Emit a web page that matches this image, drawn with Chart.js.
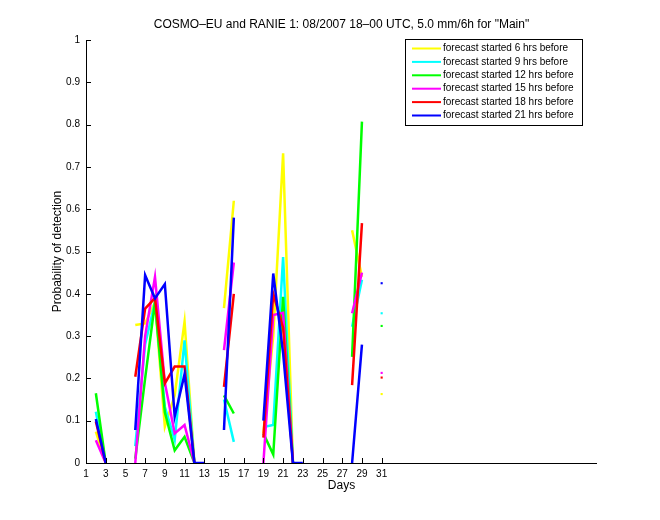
<!DOCTYPE html>
<html><head><meta charset="utf-8">
<script src="https://cdn.jsdelivr.net/npm/chart.js@4.4.0/dist/chart.umd.min.js"></script>
<style>html,body{margin:0;padding:0;background:#fff}#wrap{width:660px;height:520px}</style>
</head><body><div id="wrap"><canvas id="c" width="660" height="520"></canvas></div>
<script>
const days = [1,2,3,4,5,6,7,8,9,10,11,12,13,14,15,16,17,18,19,20,21,22,23,24,25,26,27,28,29,30,31];
const xTicks = [1,3,5,7,9,11,13,15,17,19,21,23,25,27,29,31];
const yTicks = [0,0.1,0.2,0.3,0.4,0.5,0.6,0.7,0.8,0.9,1];
const seriesLabels = ['forecast started 6 hrs before','forecast started 9 hrs before','forecast started 12 hrs before','forecast started 15 hrs before','forecast started 18 hrs before','forecast started 21 hrs before'];
const seriesColors = ['#ffff00','#00ffff','#00ff00','#ff00ff','#ff0000','#0000ff'];
const s6  = [null,0.074,0,null,null,0.326,0.33,0.38,0.086,0.16,0.334,0,null,null,0.366,0.62,null,null,0.07,0.30,0.732,0,null,null,null,null,null,0.55,0.44,null,0.163];
const s9  = [null,0.121,0,null,null,0.04,0.28,0.38,0.133,0.055,0.29,0,null,null,0.15,0.05,null,null,0.085,0.09,0.487,0,null,null,null,null,null,0.322,0.433,null,0.354];
const s12 = [null,0.165,0,null,null,0.01,0.2,0.38,0.12,0.03,0.062,0,null,null,0.16,0.117,null,null,0.07,0.02,0.393,0,null,null,null,null,null,0.251,0.807,null,0.324];
const s15 = [null,0.054,0,null,null,0,0.3,0.44,0.19,0.07,0.09,0,null,null,0.267,0.474,null,null,0,0.35,0.355,0,null,null,null,null,null,0.354,0.45,null,0.213];
const s18 = [null,0.098,0,null,null,0.204,0.365,0.39,0.188,0.228,0.228,0,null,null,0.18,0.40,null,null,0.06,0.40,0.32,0,null,null,null,null,null,0.184,0.567,null,0.202];
const s21 = [null,0.104,0,null,null,0.078,0.444,0.389,0.423,0.11,0.21,0,0,null,0.078,0.58,null,null,0.10,0.448,0.26,0,0,null,null,null,null,0,0.28,null,0.425];
const allSeries = [s6,s9,s12,s15,s18,s21];

const FONT = "'Liberation Sans', Arial, Helvetica, sans-serif";

function isolatedRadius(ctx){
  const d = ctx.dataset.data, i = ctx.dataIndex;
  const p = d[i-1], n = d[i+1];
  const pn = !p || p.y == null, nn = !n || n.y == null;
  return (pn && nn) ? 1.5 : 0;
}

const datasets = allSeries.map((vals, k) => ({
  label: seriesLabels[k],
  data: days.map((d, i) => ({x: d, y: vals[i]})),
  borderColor: seriesColors[k],
  backgroundColor: seriesColors[k],
  borderWidth: 2.5,
  pointRadius: isolatedRadius,
  pointStyle: 'rect',
  pointBorderWidth: 0,
  spanGaps: false,
  tension: 0,
  order: 5 - k
}));

const decor = {
  id: 'decor',
  afterDraw(chart){
    const ctx = chart.ctx, a = chart.chartArea;
    const xs = chart.scales.x, ys = chart.scales.y;
    ctx.save();
    ctx.strokeStyle = '#000'; ctx.lineWidth = 1;
    ctx.beginPath();
    ctx.moveTo(a.left + 0.5, a.top); ctx.lineTo(a.left + 0.5, a.bottom + 0.5);
    ctx.lineTo(a.right, a.bottom + 0.5);
    xTicks.forEach(v => { const px = Math.round(xs.getPixelForValue(v)) + 0.5; ctx.moveTo(px, a.bottom); ctx.lineTo(px, a.bottom - 5); });
    yTicks.forEach(v => { const py = Math.round(ys.getPixelForValue(v)) + 0.5; ctx.moveTo(a.left, py); ctx.lineTo(a.left + 5, py); });
    ctx.stroke();

    ctx.fillStyle = '#000';
    ctx.font = '12px ' + FONT;
    ctx.textAlign = 'center'; ctx.textBaseline = 'middle';
    ctx.fillText('COSMO\u2013EU and RANIE 1: 08/2007 18\u201300 UTC, 5.0 mm/6h for "Main"', (a.left + a.right) / 2, 25);
    ctx.fillText('Days', (a.left + a.right) / 2, 486);
    ctx.save();
    ctx.translate(58, (a.top + a.bottom) / 2);
    ctx.rotate(-Math.PI / 2);
    ctx.fillText('Probability of detection', 0, 0);
    ctx.restore();

    // legend
    const bx = 405, by = 39, bw = 177, bh = 86;
    ctx.fillStyle = '#fff';
    ctx.fillRect(bx, by, bw, bh);
    ctx.strokeStyle = '#000';
    ctx.strokeRect(bx + 0.5, by + 0.5, bw, bh);
    ctx.font = '10px ' + FONT;
    ctx.textAlign = 'left'; ctx.textBaseline = 'middle';
    chart.data.datasets.forEach((ds, i) => {
      const y = 48.5 + i * 13.4;
      ctx.strokeStyle = ds.borderColor; ctx.lineWidth = 2;
      ctx.beginPath(); ctx.moveTo(412, y); ctx.lineTo(441, y); ctx.stroke();
      ctx.fillStyle = '#000';
      ctx.fillText(ds.label, 443, y);
    });
    ctx.restore();
  }
};

new Chart(document.getElementById('c'), {
  type: 'line',
  data: { datasets },
  options: {
    responsive: false,
    animation: false,
    events: [],
    layout: { padding: { top: 40, right: 63, left: 0, bottom: 0 } },
    plugins: { legend: { display: false }, tooltip: { enabled: false }, title: { display: false } },
    scales: {
      x: {
        type: 'linear', min: 1, max: 52.85,
        grid: { display: false, drawTicks: false }, border: { display: false },
        afterBuildTicks: s => { s.ticks = xTicks.map(v => ({ value: v })); },
        afterFit: s => { s.height = 57; },
        ticks: { autoSkip: false, maxRotation: 0, padding: 5, color: '#000', font: { family: FONT, size: 10 }, callback: v => String(v) }
      },
      y: {
        type: 'linear', min: 0, max: 1,
        grid: { display: false, drawTicks: false }, border: { display: false },
        afterBuildTicks: s => { s.ticks = yTicks.map(v => ({ value: v })); },
        afterFit: s => { s.width = 86; },
        ticks: { padding: 6, color: '#000', font: { family: FONT, size: 10 }, callback: v => String(Number(v.toFixed(1))) }
      }
    }
  },
  plugins: [decor]
});
</script>
</body></html>
